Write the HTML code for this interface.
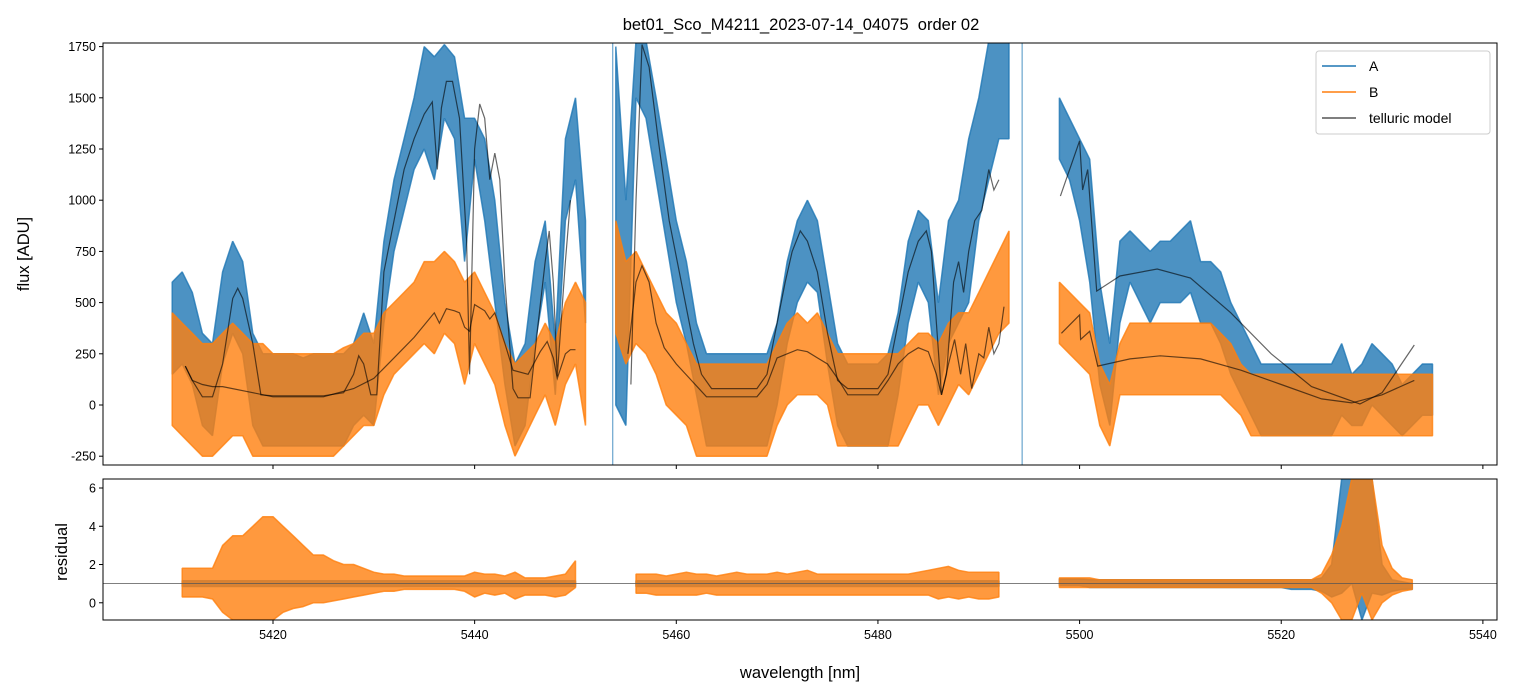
<!DOCTYPE html>
<html><head><meta charset="utf-8"><style>
body{margin:0;background:#fff;}
svg{display:block;font-family:"Liberation Sans","DejaVu Sans",sans-serif;}
</style></head><body>
<svg id="c" width="1518" height="696" viewBox="0 0 1518 696"></svg>
<script>
const segStart=[5410,5454,5498];
const hiA=[[600,650,550,350,300,650,800,700,350,250,250,250,250,230,250,250,250,250,300,450,300,800,1100,1300,1500,1750,1700,1760,1700,1400,1400,1300,1000,500,200,300,700,900,300,1300,1500,900],
[1750,1000,1780,1780,1500,1200,900,700,400,250,250,250,250,250,250,250,400,700,900,1000,900,600,300,200,200,200,200,250,450,800,950,900,500,900,1000,1300,1500,1780,1780,1780],
[1500,1400,1300,1200,600,300,800,850,800,750,800,800,850,900,700,700,650,500,400,300,200,200,200,200,200,200,200,200,300,150,200,300,250,200,100,150,200,200]];
const loA=[[150,200,100,-100,-150,200,350,250,-100,-200,-200,-200,-200,-200,-200,-200,-200,-200,-100,-50,-100,400,750,950,1150,1250,1100,1400,1300,700,1200,900,500,100,-200,-100,300,600,50,900,1100,400],
[0,-100,1500,1400,1100,800,500,300,50,-200,-200,-200,-200,-200,-200,-200,0,300,500,600,550,200,-100,-200,-200,-200,-200,-200,50,400,600,500,50,300,400,500,900,1100,1300,1300],
[1200,1100,900,600,100,-100,400,600,500,400,500,500,500,550,400,400,300,150,50,-50,-150,-150,-150,-150,-150,-150,-150,-150,-50,-100,-100,0,-50,-100,-150,-100,-50,-50]];
const hiB=[[450,400,350,300,300,350,400,350,300,300,250,250,250,250,250,250,250,280,300,350,350,450,500,550,600,700,700,750,700,600,650,550,450,300,200,250,300,400,300,500,600,500],
[900,700,750,650,550,450,400,300,200,200,200,200,200,200,200,200,300,400,450,400,450,350,250,250,250,250,250,250,250,300,350,350,300,400,450,450,550,650,750,850],
[600,550,500,450,200,100,300,400,400,400,400,400,400,400,400,400,350,300,200,150,150,150,150,150,150,150,150,150,150,150,150,150,150,150,150,150,150,150]];
const loB=[[-100,-150,-200,-250,-250,-200,-150,-150,-250,-250,-250,-250,-250,-250,-250,-250,-250,-200,-150,-100,-100,50,150,200,250,300,250,350,300,100,300,200,100,-100,-250,-150,-50,50,-100,100,200,-100],
[350,200,300,250,150,0,-50,-100,-250,-250,-250,-250,-250,-250,-250,-250,-100,0,50,50,50,0,-200,-200,-200,-200,-200,-200,-200,-100,0,0,-100,0,100,50,150,250,350,400],
[300,250,200,150,-100,-200,50,50,50,50,50,50,50,50,50,50,50,0,-50,-150,-150,-150,-150,-150,-150,-150,-150,-150,-150,-150,-150,-150,-150,-150,-150,-150,-150,-150]];
const telA=[[[5411.3,190],[5412,120],[5413,40],[5414,40],[5415,200],[5416,520],[5416.5,570],[5417,520],[5418,300],[5418.8,50],[5420,45],[5425,45],[5427,60],[5428,150],[5428.5,240],[5429,200],[5429.7,50],[5430.3,50],[5431,650],[5432,900],[5433,1150],[5434,1300],[5435,1420],[5435.8,1480],[5436.3,1150],[5436.7,1450],[5437.2,1580],[5437.8,1580],[5438.5,1400],[5439.2,800],[5439.5,150],[5440,1250],[5440.5,1470],[5441,1400],[5441.5,1100],[5442,1230],[5442.5,1100],[5443,600],[5443.8,80],[5444.3,35],[5445.5,35],[5446.3,400],[5447,700],[5447.4,850],[5447.8,600],[5448.2,140],[5449,700],[5449.5,1000]],
[[5455.5,100],[5456,1000],[5456.6,1760],[5457.3,1650],[5458.2,1300],[5459.3,900],[5460.5,600],[5461.7,300],[5462.5,150],[5463.5,80],[5468,80],[5469,150],[5470,400],[5470.8,600],[5471.5,750],[5472.3,850],[5473,800],[5474,650],[5475,350],[5476,120],[5477,80],[5480,80],[5481,150],[5482,400],[5483,650],[5484,800],[5484.8,850],[5485.3,750],[5485.8,400],[5486.3,50],[5486.8,150],[5487.5,600],[5488,700],[5488.5,550],[5489,750],[5489.6,900],[5490.3,950],[5491,1150],[5491.5,1050],[5492,1100]],
[[5498.1,1020],[5500,1290],[5500.3,1050],[5500.8,1150],[5501.7,556],[5504,630],[5507.7,664],[5511,620],[5515,450],[5519,250],[5523,90],[5527.8,5],[5530,60],[5533.2,293]]];
const telB=[[[5411.3,190],[5412,120],[5413,100],[5414,90],[5415,90],[5418,60],[5420,40],[5425,40],[5428,80],[5430,130],[5432,230],[5434,330],[5436,450],[5436.5,400],[5437.2,470],[5438,460],[5438.5,450],[5439,380],[5439.5,360],[5440,490],[5441,460],[5441.5,420],[5442,450],[5443,300],[5443.8,170],[5445.3,150],[5446.5,260],[5447.2,310],[5447.8,230],[5448.2,130],[5449,250],[5449.5,270],[5450,270]],
[[5455.2,250],[5456,600],[5456.6,680],[5457.3,600],[5458,400],[5458.8,280],[5460,200],[5461.5,120],[5463,40],[5468,40],[5469,100],[5470,230],[5471,250],[5472,270],[5473,260],[5474,230],[5475,200],[5476,130],[5477,50],[5480,50],[5481,120],[5482,200],[5483,250],[5484,280],[5485,260],[5485.8,150],[5486.3,50],[5487,200],[5487.6,320],[5488.2,150],[5488.7,300],[5489.3,80],[5490,250],[5490.5,230],[5491,380],[5491.5,250],[5492,300],[5492.5,480]],
[[5498.2,350],[5500,440],[5500.1,320],[5501,360],[5501.8,190],[5505,225],[5508,240],[5512,225],[5516,170],[5520,100],[5524,30],[5527,10],[5530,50],[5533.2,120]]];
const resStart=[5411,5456,5498];
const resHiB=[[1.8,1.8,1.8,1.8,3.0,3.5,3.5,4.0,4.5,4.5,4.0,3.5,3.0,2.5,2.5,2.2,2.0,2.0,1.8,1.6,1.5,1.5,1.4,1.4,1.4,1.4,1.4,1.4,1.4,1.6,1.5,1.5,1.4,1.6,1.3,1.3,1.3,1.4,1.5,2.2],
[1.5,1.5,1.5,1.4,1.5,1.6,1.5,1.5,1.4,1.5,1.6,1.5,1.5,1.5,1.6,1.5,1.6,1.7,1.5,1.5,1.5,1.5,1.5,1.5,1.5,1.5,1.5,1.5,1.6,1.7,1.8,1.9,1.7,1.6,1.6,1.6,1.6],
[1.3,1.3,1.3,1.3,1.2,1.2,1.2,1.2,1.2,1.2,1.2,1.2,1.2,1.2,1.2,1.2,1.2,1.2,1.2,1.2,1.2,1.2,1.2,1.2,1.2,1.2,1.5,2.5,4.0,6.5,6.5,6.5,3.0,1.8,1.3,1.2]];
const resLoB=[[0.3,0.3,0.3,0.2,-0.5,-0.9,-0.9,-0.9,-0.9,-0.9,-0.5,-0.3,-0.2,0,0,0.1,0.2,0.3,0.4,0.5,0.6,0.6,0.7,0.7,0.7,0.7,0.7,0.7,0.6,0.3,0.5,0.4,0.5,0.2,0.4,0.4,0.4,0.3,0.4,0.8],
[0.5,0.5,0.4,0.4,0.4,0.4,0.4,0.5,0.4,0.4,0.4,0.4,0.4,0.4,0.4,0.4,0.4,0.4,0.4,0.4,0.4,0.4,0.4,0.4,0.4,0.4,0.4,0.4,0.4,0.4,0.2,0.3,0.2,0.3,0.2,0.2,0.3],
[0.8,0.8,0.8,0.8,0.8,0.8,0.8,0.8,0.8,0.8,0.8,0.8,0.8,0.8,0.8,0.8,0.8,0.8,0.8,0.8,0.8,0.8,0.8,0.8,0.8,0.8,0.5,0,-0.9,-0.9,0.5,-0.9,0,0.4,0.6,0.7]];
const resHiA=[[1.15,1.15,1.15,1.15,1.15,1.15,1.15,1.15,1.15,1.15,1.15,1.15,1.15,1.15,1.15,1.15,1.15,1.15,1.15,1.15,1.15,1.15,1.15,1.15,1.15,1.15,1.15,1.15,1.15,1.15,1.15,1.15,1.15,1.15,1.15,1.15,1.15,1.15,1.15,1.15],
[1.15,1.15,1.15,1.15,1.15,1.15,1.15,1.15,1.15,1.15,1.15,1.15,1.15,1.15,1.15,1.15,1.15,1.15,1.15,1.15,1.15,1.15,1.15,1.15,1.15,1.15,1.15,1.15,1.15,1.15,1.15,1.15,1.15,1.15,1.15,1.15,1.15],
[1.25,1.25,1.25,1.2,1.2,1.2,1.2,1.2,1.2,1.2,1.2,1.2,1.2,1.2,1.2,1.2,1.2,1.2,1.2,1.2,1.2,1.2,1.2,1.2,1.2,1.2,1.3,2.0,6.5,6.5,6.5,6.5,2.0,1.2,1.1,1.0]];
const resLoA=[[0.85,0.85,0.85,0.85,0.85,0.85,0.85,0.85,0.85,0.85,0.85,0.85,0.85,0.85,0.85,0.85,0.85,0.85,0.85,0.85,0.85,0.85,0.85,0.85,0.85,0.85,0.85,0.85,0.85,0.85,0.85,0.85,0.85,0.85,0.85,0.85,0.85,0.85,0.85,0.85],
[0.85,0.85,0.85,0.85,0.85,0.85,0.85,0.85,0.85,0.85,0.85,0.85,0.85,0.85,0.85,0.85,0.85,0.85,0.85,0.85,0.85,0.85,0.85,0.85,0.85,0.85,0.85,0.85,0.85,0.85,0.85,0.85,0.85,0.85,0.85,0.85,0.85],
[0.9,0.9,0.9,0.8,0.8,0.8,0.8,0.8,0.8,0.8,0.8,0.8,0.8,0.8,0.8,0.8,0.8,0.8,0.8,0.8,0.8,0.8,0.8,0.7,0.7,0.7,0.6,0.3,0.5,1.0,-0.9,0.5,0.4,0.6,0.7,0.7]];
const xTicks=[5420,5440,5460,5480,5500,5520,5540];
const yTicks=[-250,0,250,500,750,1000,1250,1500,1750];
const rTicks=[0,2,4,6];

const NS="http://www.w3.org/2000/svg";
const svg=document.getElementById('c');
const L=103,R=1497,T1=43,B1=465,T2=479,B2=620;
const X0=5403.14,X1=5541.4,Y0=-293,Y1=1767.6,R0=-0.9,R1=6.47;
const xs=v=>L+(v-X0)/(X1-X0)*(R-L);
const ys=v=>B1-(v-Y0)/(Y1-Y0)*(B1-T1);
const rs=v=>B2-(v-R0)/(R1-R0)*(B2-T2);
function el(tag,attrs,parent){const e=document.createElementNS(NS,tag);for(const k in attrs)e.setAttribute(k,attrs[k]);(parent||svg).appendChild(e);return e;}
const defs=el('defs',{});
const cp1=el('clipPath',{id:'cp1'},defs);el('rect',{x:L,y:T1,width:R-L,height:B1-T1},cp1);
const cp2=el('clipPath',{id:'cp2'},defs);el('rect',{x:L,y:T2,width:R-L,height:B2-T2},cp2);
const g1=el('g',{'clip-path':'url(#cp1)'});


const g2=el('g',{'clip-path':'url(#cp2)'});



function band(starts,hi,lo,sy,color,op,g,name){
  for(let s=0;s<hi.length;s++){
    let up=[],dn=[];
    for(let i=0;i<hi[s].length;i++){const x=xs(starts[s]+i);up.push(x.toFixed(1)+','+sy(hi[s][i]).toFixed(1));dn.unshift(x.toFixed(1)+','+sy(lo[s][i]).toFixed(1));}
    const p=el('polygon',{points:up.concat(dn).join(' '),fill:color,'fill-opacity':op,stroke:color,'stroke-opacity':op,'stroke-width':1.5,'stroke-linejoin':'bevel'},g);
    
    
  }
}
function line(segs,color,op,w,g,name){
  segs.forEach((seg,s)=>{
    const p=el('polyline',{points:seg.map(d=>xs(d[0]).toFixed(1)+','+ys(d[1]).toFixed(1)).join(' '),fill:'none',stroke:color,'stroke-opacity':op,'stroke-width':w},g);
    
    
  });
}
band(segStart,hiA,loA,ys,'#1f77b4',0.8,g1,'series-a');
[[5453.7,-293,1767],[5494.3,-293,1767]].forEach(d=>{const l=el('line',{x1:xs(d[0]),x2:xs(d[0]),y1:ys(d[1]),y2:ys(d[2]),stroke:'#1f77b4','stroke-width':1,'stroke-opacity':0.8},g1);});
band(segStart,hiB,loB,ys,'#ff7f0e',0.8,g1,'series-b');
line(telA,'#000',0.6,1.2,g1,'telluric-model-a');
line(telB,'#000',0.6,1.2,g1,'telluric-model-b');

band(resStart,resHiA,resLoA,rs,'#1f77b4',0.8,g2,'residual-a');
band(resStart,resHiB,resLoB,rs,'#ff7f0e',0.8,g2,'residual-b');
const ref=el('line',{x1:L,x2:R,y1:rs(1),y2:rs(1),stroke:'#555','stroke-width':0.8},g2);



[[T1,B1,'flux-axes-frame'],[T2,B2,'residual-axes-frame']].forEach(f=>{const r=el('rect',{x:L,y:f[0],width:R-L,height:f[1]-f[0],fill:'none',stroke:'#000','stroke-width':1});});
xTicks.forEach(v=>{const x=xs(v);
  el('line',{x1:x,x2:x,y1:B1,y2:B1+4,stroke:'#000'});
  el('line',{x1:x,x2:x,y1:B2,y2:B2+4,stroke:'#000'});
  const t=el('text',{x:x,y:B2+19,'text-anchor':'middle','font-size':12.5,fill:'#000'});t.textContent=v;
  
  
});
yTicks.forEach(v=>{const y=ys(v);
  el('line',{x1:L-4,x2:L,y1:y,y2:y,stroke:'#000'});
  const t=el('text',{x:L-7,y:y+4.5,'text-anchor':'end','font-size':12.5,fill:'#000'});t.textContent=v;
  
  
});
rTicks.forEach(v=>{const y=rs(v);
  el('line',{x1:L-4,x2:L,y1:y,y2:y,stroke:'#000'});
  const t=el('text',{x:L-7,y:y+4.5,'text-anchor':'end','font-size':12.5,fill:'#000'});t.textContent=v;
  
  
});
</script>
<svg style="position:absolute;left:0;top:0" width="1518" height="696">
<text x="801" y="30" text-anchor="middle" font-size="16.5" font-family="Liberation Sans, sans-serif" xml:space="preserve" style="white-space:pre">bet01_Sco_M4211_2023-07-14_04075  order 02</text>
<text x="800" y="678" text-anchor="middle" font-size="16.5" font-family="Liberation Sans, sans-serif">wavelength [nm]</text>
<text transform="translate(29,254) rotate(-90)" text-anchor="middle" font-size="16.5" font-family="Liberation Sans, sans-serif">flux [ADU]</text>
<text transform="translate(67,552) rotate(-90)" text-anchor="middle" font-size="16.5" font-family="Liberation Sans, sans-serif">residual</text>
<g font-family="Liberation Sans, sans-serif" font-size="14">
<rect x="1316" y="51" width="174" height="83" rx="3" fill="#fff" fill-opacity="0.85" stroke="#ccc"/>
<line x1="1322" x2="1356" y1="66" y2="66" stroke="#1f77b4" stroke-width="1.5"/>
<text x="1369" y="71">A</text>
<line x1="1322" x2="1356" y1="92" y2="92" stroke="#ff7f0e" stroke-width="1.5"/>
<text x="1369" y="97">B</text>
<line x1="1322" x2="1356" y1="118" y2="118" stroke="#555" stroke-width="1.5"/>
<text x="1369" y="123">telluric model</text>
</g>
</svg>
</body></html>
